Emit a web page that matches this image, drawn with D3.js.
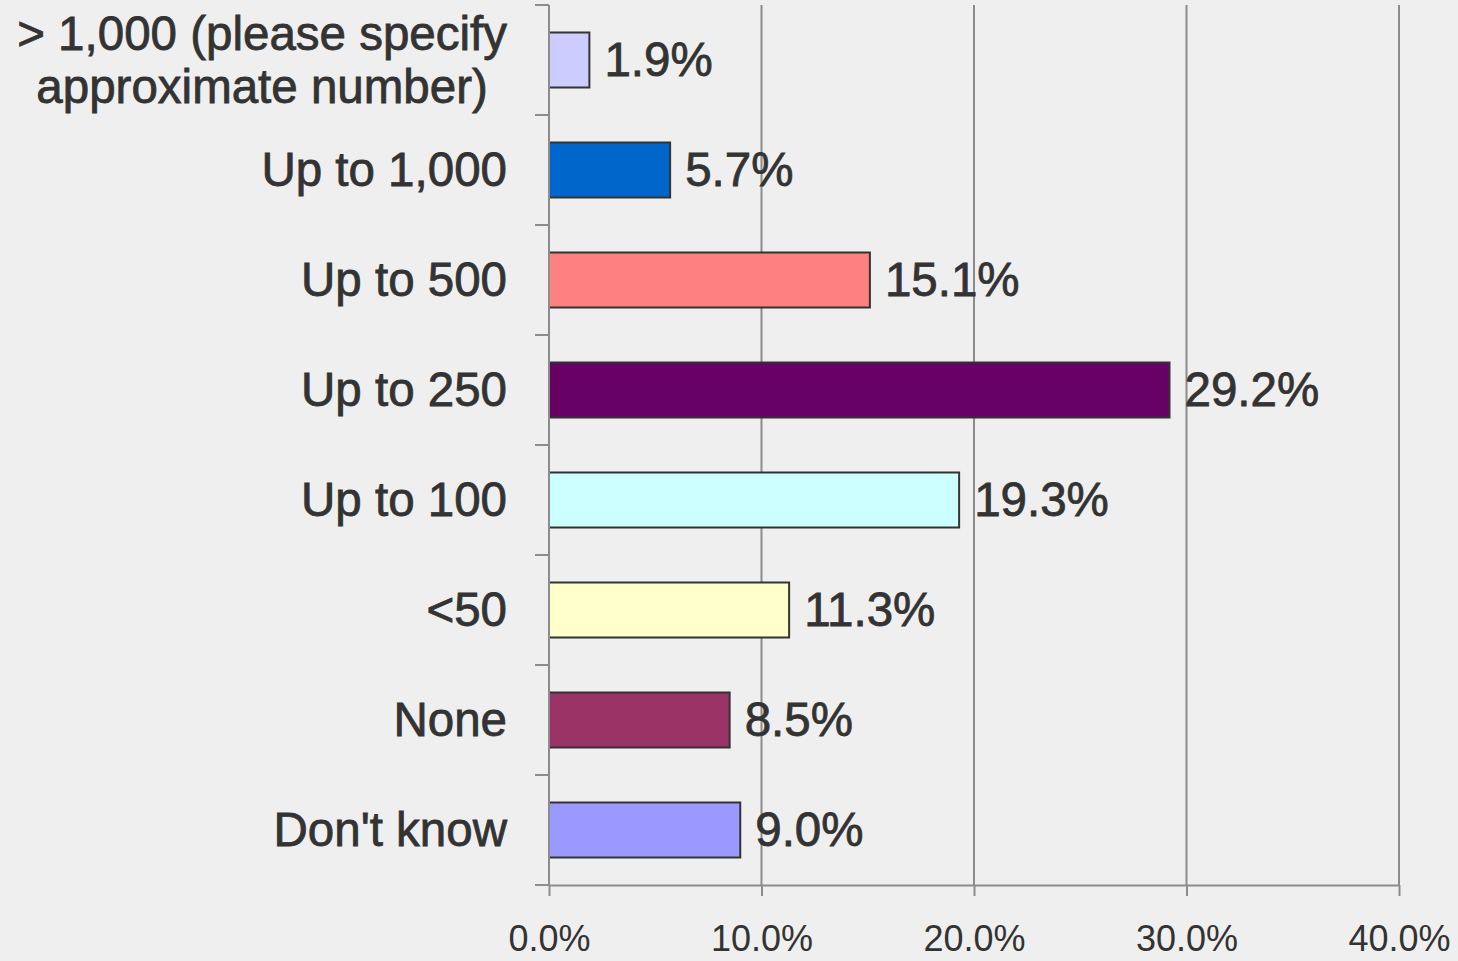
<!DOCTYPE html>
<html>
<head>
<meta charset="utf-8">
<script src="https://cdn.jsdelivr.net/npm/d3@7"></script>
<style>
  html, body { margin: 0; padding: 0; background: #efefef; }
  svg { display: block; }
  text { font-family: "Liberation Sans", Arial, sans-serif; fill: #333; }
</style>
</head>
<body>
<div id="chart"></div>
<script>
// data
const categories = [
  "> 1,000 (please specify\napproximate number)",
  "Up to 1,000",
  "Up to 500",
  "Up to 250",
  "Up to 100",
  "<50",
  "None",
  "Don't know"
];
const values = [0.019, 0.057, 0.151, 0.292, 0.193, 0.113, 0.085, 0.090];
const colors = ["#ccccff", "#0066cc", "#ff8080", "#660066", "#ccffff", "#ffffcc", "#993366", "#9999ff"];
const xTicks = [0, 0.1, 0.2, 0.3, 0.4];

const width = 1458,
  height = 961,
  margin = { top: 5, bottom: 76, left: 549, right: 59 };

const fmt = d3.format(".1%");
const axisColor = "#8c8c8c";

const data = categories.map((c, i) => ({ cat: c, value: values[i], color: colors[i] }));

const svg = d3.select("#chart")
  .append("svg")
    .attr("width", width)
    .attr("height", height);

const xScale = d3.scaleLinear()
  .domain([0, 0.4])
  .range([margin.left, width - margin.right]);

const yScale = d3.scaleBand()
  .domain(categories)
  .range([margin.top, height - margin.bottom])
  .paddingInner(0.5)
  .paddingOuter(0.25);

const y0 = margin.top, y1 = height - margin.bottom;

// vertical gridlines
svg.append("g")
  .selectAll("line")
  .data(xTicks.slice(1))
  .join("line")
    .attr("x1", d => xScale(d))
    .attr("x2", d => xScale(d))
    .attr("y1", y0)
    .attr("y2", y1)
    .attr("stroke", axisColor)
    .attr("stroke-width", 2);

// bars
svg.append("g")
  .selectAll("rect")
  .data(data)
  .join("rect")
    .attr("x", xScale(0))
    .attr("y", d => yScale(d.cat))
    .attr("width", d => xScale(d.value) - xScale(0))
    .attr("height", yScale.bandwidth())
    .attr("fill", d => d.color)
    .attr("stroke", "#333")
    .attr("stroke-width", 2);

// x axis
const xAxis = svg.append("g")
  .attr("transform", "translate(0," + y1 + ")")
  .call(d3.axisBottom(xScale).tickValues(xTicks).tickSize(11).tickSizeOuter(0).tickFormat(fmt));
xAxis.select(".domain").attr("stroke", axisColor).attr("stroke-width", 2);
xAxis.selectAll(".tick line").attr("stroke", axisColor).attr("stroke-width", 2);
xAxis.selectAll(".tick text")
  .attr("font-size", "36px")
  .attr("font-family", null)
  .attr("fill", "#333")
  .attr("y", 0)
  .attr("dy", "66px");

// y axis line + ticks at band boundaries
const boundaries = categories.map(c => yScale(c) - yScale.step() * yScale.paddingInner() / 2);
boundaries.push(y1);
svg.append("line")
  .attr("x1", xScale(0)).attr("x2", xScale(0))
  .attr("y1", y0).attr("y2", y1)
  .attr("stroke", axisColor).attr("stroke-width", 2);
svg.append("g")
  .selectAll("line")
  .data(boundaries)
  .join("line")
    .attr("x1", xScale(0) - 14)
    .attr("x2", xScale(0))
    .attr("y1", d => d)
    .attr("y2", d => d)
    .attr("stroke", axisColor)
    .attr("stroke-width", 2);

// category labels (multi-line ones are centred within their block)
const labelRight = xScale(0) - 42;
const labels = svg.append("g")
  .selectAll("text")
  .data(data)
  .join("text")
    .attr("x", labelRight)
    .attr("y", d => yScale(d.cat) + yScale.bandwidth() / 2 + 16)
    .attr("text-anchor", "end")
    .attr("font-size", "47.5px")
    .attr("stroke", "#333")
    .attr("stroke-width", 0.8);

labels.each(function(d) {
  const lines = d.cat.split("\n");
  const el = d3.select(this);
  const lh = 53;
  const spans = lines.map((l, i) =>
    el.append("tspan")
      .attr("x", labelRight)
      .attr("dy", i === 0 ? -(lines.length - 1) * lh / 2 : lh)
      .text(l));
  if (lines.length > 1) {
    const w = d3.max(spans, s => s.node().getComputedTextLength());
    el.attr("text-anchor", "middle");
    spans.forEach(s => s.attr("x", labelRight - w / 2));
  }
});

// value labels
svg.append("g")
  .selectAll("text")
  .data(data)
  .join("text")
    .attr("x", d => xScale(d.value) + 15)
    .attr("y", d => yScale(d.cat) + yScale.bandwidth() / 2 + 16)
    .attr("font-size", "47.5px")
    .attr("stroke", "#333")
    .attr("stroke-width", 0.8)
    .text(d => fmt(d.value));
</script>
</body>
</html>
